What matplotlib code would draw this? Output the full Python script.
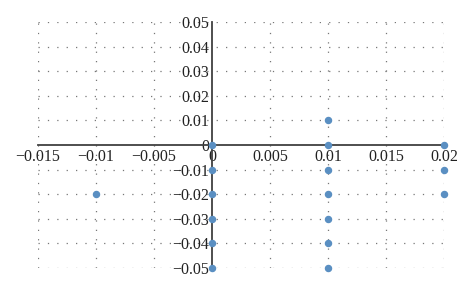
"""Scatter of grid points with axes crossing at the origin."""

import matplotlib
matplotlib.use("Agg")
import matplotlib.pyplot as plt
import numpy as np

x_vals = [0, 0, 0, 0, 0, 0,
          0.01, 0.01, 0.01, 0.01, 0.01, 0.01, 0.01,
          0.02, 0.02, 0.02,
          -0.01]
y_vals = [0, -0.01, -0.02, -0.03, -0.04, -0.05,
          0.01, 0, -0.01, -0.02, -0.03, -0.04, -0.05,
          0, -0.01, -0.02,
          -0.02]

x_ticks = [-0.015, -0.01, -0.005, 0, 0.005, 0.01, 0.015, 0.02]
x_labels = ["\u22120.015", "\u22120.01", "\u22120.005", "0", "0.005", "0.01", "0.015", "0.02"]
y_ticks = [-0.05, -0.04, -0.03, -0.02, -0.01, 0, 0.01, 0.02, 0.03, 0.04, 0.05]
y_labels = ["\u22120.05", "\u22120.04", "\u22120.03", "\u22120.02", "\u22120.01", "0",
            "0.01", "0.02", "0.03", "0.04", "0.05"]

plt.rcParams["font.family"] = ["Liberation Serif", "DejaVu Serif"]

fig = plt.figure(figsize=(4.74, 2.91), dpi=100)
ax = fig.add_axes([0.080, 0.079, 0.857, 0.845])

# Dotted grid
grid_kw = dict(color="#777777", linewidth=0.9, linestyle=(0, (1, 6.5)), zorder=0)
for xv in x_ticks:
    if xv != 0:
        ax.axvline(xv, **grid_kw)
for yv in y_ticks:
    if yv != 0:
        ax.axhline(yv, **grid_kw)

ax.scatter(x_vals, y_vals, s=19, color="#5a8fc2", zorder=3, clip_on=False)

ax.set_xlim(-0.015, 0.02)
ax.set_ylim(-0.05, 0.05)

for side in ("top", "right"):
    ax.spines[side].set_visible(False)
ax.spines["left"].set_position(("data", 0))
ax.spines["bottom"].set_position(("data", 0))
for side in ("left", "bottom"):
    ax.spines[side].set_color("#404040")
    ax.spines[side].set_linewidth(1.3)
    ax.spines[side].set_zorder(2)

ax.set_xticks(x_ticks)
ax.set_xticklabels(x_labels)
ax.set_yticks(y_ticks)
ax.set_yticklabels(y_labels)
ax.tick_params(axis="both", length=0, labelsize=11.5, colors="#222222")
ax.tick_params(axis="x", pad=3)
ax.tick_params(axis="y", pad=2)

fig.savefig("out.png", dpi=100)
